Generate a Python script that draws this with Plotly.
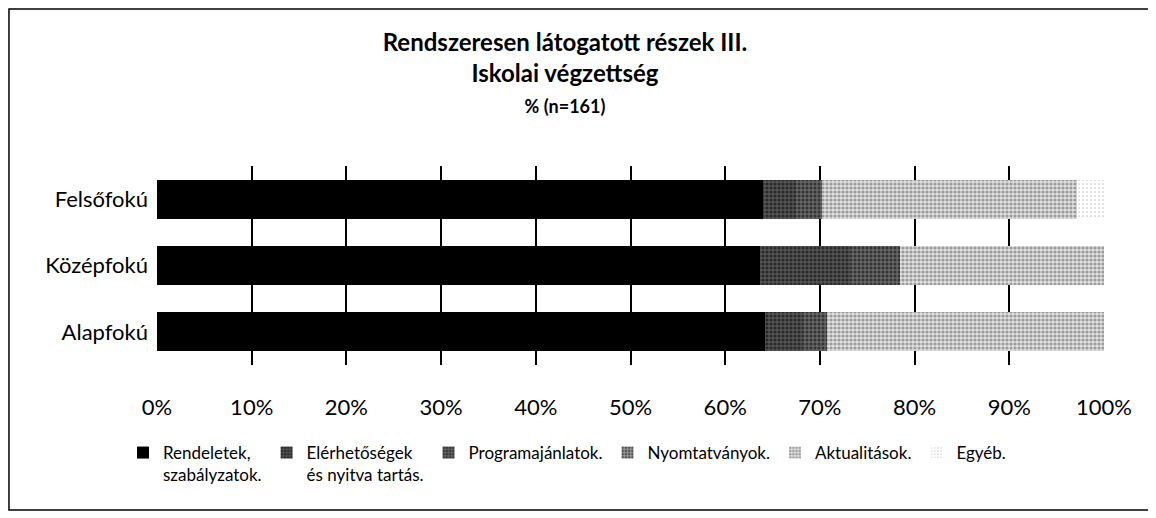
import plotly.graph_objects as go

categories = ["Alapfokú", "Középfokú", "Felsőfokú"]
series_names = [
    "Rendeletek,<br>szabályzatok.",
    "Elérhetőségek<br>és nyitva tartás.",
    "Programajánlatok.",
    "Nyomtatványok.",
    "Aktualitások.",
    "Egyéb.",
]
rendeletek = [64.2, 63.7, 64.0]
elerhetosegek = [4.0, 9.5, 3.5]
programajanlatok = [2.5, 5.3, 2.7]
nyomtatvanyok = [0.0, 0.0, 0.0]
aktualitasok = [29.3, 21.5, 27.0]
egyeb = [0.0, 0.0, 2.8]
tick_vals = [0, 10, 20, 30, 40, 50, 60, 70, 80, 90, 100]
tick_text = ["0%", "10%", "20%", "30%", "40%", "50%", "60%", "70%", "80%", "90%", "100%"]

values = [rendeletek, elerhetosegek, programajanlatok, nyomtatvanyok, aktualitasok, egyeb]
styles = [
    None,
    dict(bg="#555555", fg="#000000", sol=0.5),
    dict(bg="#666666", fg="#000000", sol=0.45),
    dict(bg="#999999", fg="#000000", sol=0.4),
    dict(bg="#e0e0e0", fg="#555555", sol=0.5),
    dict(bg="#ffffff", fg="#8a8a8a", sol=0.15),
]

FONT = "Lato"
# The page body has an 8px margin, so the figure is 8px smaller than the window.
W, H = 1148, 510
fig = go.Figure()
for name, vals, st in zip(series_names, values, styles):
    if st is None:
        marker = dict(color="black", line=dict(width=0))
    else:
        marker = dict(color=st["bg"], line=dict(width=0),
                      pattern=dict(shape=".", fgcolor=st["fg"], bgcolor=st["bg"],
                                   size=4, solidity=st["sol"]))
    fig.add_trace(go.Bar(y=categories, x=vals, name=name, orientation="h", marker=marker))

fig.update_layout(
    barmode="stack",
    bargap=0.41,
    width=W, height=H,
    margin=dict(l=149, r=52, t=158, b=153),
    paper_bgcolor="white", plot_bgcolor="white",
    font=dict(family=FONT, color="black", size=22),
    title=dict(
        text="<b>Rendszeresen látogatott részek III.<br>Iskolai végzettség<br><span style='font-size:18px'>% (n=161)</span></b>",
        x=557 / W, xanchor="center", y=1 - 43 / H, yanchor="top",
        font=dict(family=FONT, size=24, color="black"),
    ),
    xaxis=dict(
        range=[0, 100], tickvals=tick_vals, ticktext=tick_text,
        showgrid=True, gridcolor="black", gridwidth=1.5,
        zeroline=False, showline=False,
        ticks="", ticklabelstandoff=27,
        tickfont=dict(family=FONT, size=22, color="black"),
    ),
    yaxis=dict(
        showgrid=False, zeroline=False, showline=False,
        ticks="", ticklabelstandoff=8,
        tickfont=dict(family=FONT, size=22, color="black"),
    ),
    legend=dict(
        orientation="h", xref="container", yref="container",
        x=115 / W, xanchor="left", y=1 - 427 / H, yanchor="top",
        traceorder="normal", valign="top",
        font=dict(family=FONT, size=17, color="black"),
        itemwidth=30, tracegroupgap=0,
    ),
    shapes=[dict(
        type="rect", xref="paper", yref="paper",
        x0=-0.1563, x1=1.0486, y0=-0.729, y1=1.789,
        line=dict(color="black", width=1.5),
    )],
)

fig.write_html("out.html")
